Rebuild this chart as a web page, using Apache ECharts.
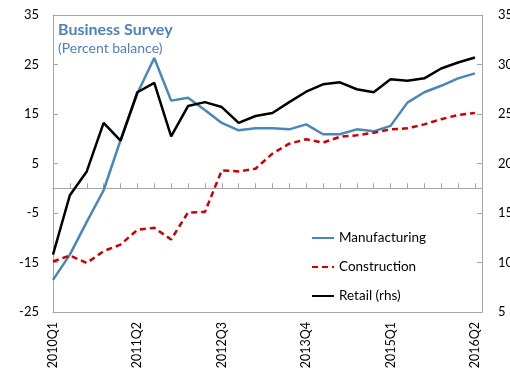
<!DOCTYPE html>
<html>
<head>
<meta charset="utf-8">
<script src="https://cdn.jsdelivr.net/npm/echarts@6/dist/echarts.min.js"></script>
<style>
  html, body { margin: 0; padding: 0; background: #fff; }
  #chart { width: 510px; height: 372px; }
</style>
</head>
<body>
<div id="chart"></div>
<script>
// Quarterly business survey balances
const quarters = [
  '2010Q1', '2010Q2', '2010Q3', '2010Q4',
  '2011Q1', '2011Q2', '2011Q3', '2011Q4',
  '2012Q1', '2012Q2', '2012Q3', '2012Q4',
  '2013Q1', '2013Q2', '2013Q3', '2013Q4',
  '2014Q1', '2014Q2', '2014Q3', '2014Q4',
  '2015Q1', '2015Q2', '2015Q3', '2015Q4',
  '2016Q1', '2016Q2'
];
const manufacturing = [-18.5, -13.4, -6.8, -0.4, 9.7, 19.2, 26.3, 17.7, 18.3, 15.8, 13.2, 11.7, 12.1,
  12.1, 11.9, 12.9, 10.9, 10.9, 11.9, 11.5, 12.6, 17.3, 19.4, 20.7, 22.2, 23.2];
const construction = [-14.8, -13.6, -15.1, -12.7, -11.4, -8.4, -8.0, -10.35, -4.9, -4.8, 3.6, 3.4, 3.95,
  7.0, 9.0, 9.9, 9.2, 10.4, 10.7, 11.2, 11.9, 12.1, 12.9, 13.95, 14.8, 15.2];
const retail = [10.8, 16.8, 19.2, 24.1, 22.3, 27.2, 28.15, 22.75, 25.8, 26.2, 25.7, 24.1, 24.8,
  25.1, 26.2, 27.25, 28.0, 28.2, 27.5, 27.2, 28.5, 28.35, 28.6, 29.6, 30.2, 30.7];
const leftTicks = [-25, -15, -5, 5, 15, 25, 35];

const FONT = 'Lato';
const axisGray = '#a6a6a6';
const pairs = arr => arr.map((v, i) => [i, v]);

// shared quarter scale: index 0..25, with a little room after the last quarter
const quarterScale = { type: 'value', min: 0, max: 25.42, interval: 1, splitLine: { show: false } };

const chart = echarts.init(document.getElementById('chart'), null, { renderer: 'canvas' });
chart.setOption({
  animation: false,
  backgroundColor: '#fff',
  textStyle: { fontFamily: FONT },
  title: {
    text: 'Business Survey',
    subtext: '(Percent balance)',
    left: 53,
    top: 17,
    itemGap: 3,
    textStyle: { fontFamily: FONT, fontSize: 16, fontWeight: 'bold', color: '#4f81bd' },
    subtextStyle: { fontFamily: FONT, fontSize: 14, color: '#4f81bd' }
  },
  legend: {
    orient: 'vertical',
    left: 311,
    top: 231,
    padding: 0,
    itemWidth: 22,
    itemHeight: 14,
    itemGap: 15,
    itemStyle: { opacity: 0 },
    textStyle: { fontFamily: FONT, fontSize: 13.5, color: '#000' },
    data: ['Manufacturing', 'Construction', 'Retail (rhs)']
  },
  grid: {
    left: 53, right: 28, top: 15, bottom: 60,
    containLabel: false,
    outerBoundsMode: 'none'
  },
  xAxis: [
    // bottom frame edge with the quarter labels
    Object.assign({}, quarterScale, {
      position: 'bottom',
      axisLine: { onZero: false, lineStyle: { color: axisGray, width: 1 } },
      axisTick: { show: false },
      axisLabel: {
        rotate: 90,
        margin: 10,
        fontFamily: FONT,
        fontSize: 12.5,
        color: '#000',
        showMaxLabel: false,
        formatter: v => (Number.isInteger(v) && v % 5 === 0) ? quarters[v] : ''
      }
    }),
    // top frame edge
    Object.assign({}, quarterScale, {
      position: 'top',
      axisLine: { onZero: false, lineStyle: { color: axisGray, width: 1 } },
      axisTick: { show: false },
      axisLabel: { show: false }
    }),
    // zero line with quarter ticks
    Object.assign({}, quarterScale, {
      position: 'bottom',
      axisLine: { onZero: true, onZeroAxisIndex: 0, lineStyle: { color: axisGray, width: 1 } },
      axisTick: { inside: true, length: 5, lineStyle: { color: axisGray } },
      axisLabel: { show: false }
    })
  ],
  yAxis: [
    {
      type: 'value',
      position: 'left',
      min: -25,
      max: 35,
      splitLine: { show: false },
      axisLine: { show: true, onZero: false, lineStyle: { color: axisGray } },
      axisTick: { show: true, inside: true, length: 5, customValues: leftTicks, lineStyle: { color: axisGray } },
      axisLabel: { customValues: leftTicks, margin: 14, fontFamily: FONT, fontSize: 13, color: '#000' }
    },
    {
      type: 'value',
      position: 'right',
      min: 5,
      max: 35,
      interval: 5,
      alignTicks: false,
      splitLine: { show: false },
      axisLine: { show: true, onZero: false, lineStyle: { color: axisGray } },
      axisTick: { show: true, inside: true, length: 5, lineStyle: { color: axisGray } },
      axisLabel: { margin: 16, fontFamily: FONT, fontSize: 13, color: '#000' }
    }
  ],
  series: [
    {
      name: 'Manufacturing',
      type: 'line',
      xAxisIndex: 0,
      yAxisIndex: 0,
      data: pairs(manufacturing),
      symbol: 'none',
      lineStyle: { color: '#4a86b8', width: 2.5 },
      itemStyle: { color: '#4a86b8' }
    },
    {
      name: 'Construction',
      type: 'line',
      xAxisIndex: 0,
      yAxisIndex: 0,
      data: pairs(construction),
      symbol: 'none',
      lineStyle: { color: '#cc0000', width: 2.5, type: [6, 4] },
      itemStyle: { color: '#cc0000' }
    },
    {
      name: 'Retail (rhs)',
      type: 'line',
      xAxisIndex: 0,
      yAxisIndex: 1,
      data: pairs(retail),
      symbol: 'none',
      lineStyle: { color: '#000', width: 2.5 },
      itemStyle: { color: '#000' }
    }
  ]
});
</script>
</body>
</html>
